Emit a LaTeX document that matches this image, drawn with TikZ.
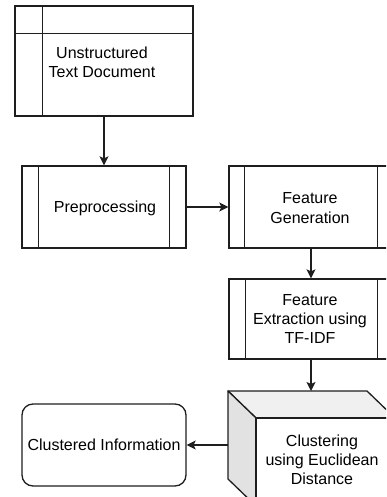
\documentclass[tikz,border=0pt]{standalone}
\usepackage{fontspec}
\setmainfont{Liberation Sans}
\usetikzlibrary{arrows.meta}
\definecolor{topface}{HTML}{F0F0F0}
\definecolor{sideface}{HTML}{E2E2E2}
\definecolor{ln}{HTML}{1E1E1E}
\begin{document}
\begin{tikzpicture}[x=1pt,y=-1pt,
  every node/.style={font=\fontsize{16}{19.2}\selectfont, text=black},
  blk/.style={draw=ln, line width=1.3pt, fill=white, inner sep=0pt},
  lbl/.style={align=center, inner sep=0pt},
  arr/.style={draw=ln, line width=1.3pt, -{Stealth[length=9pt,width=9pt,inset=2pt]}},
  ln/.style={draw=ln, line width=1.3pt}]
\useasboundingbox[clip] (0,0) rectangle (386,497);
% Unstructured text document (internal storage)
\node[blk, minimum width=178pt, minimum height=110pt] (doc) at (104,61) {};
\draw[ln] ([xshift=28pt]doc.north west) -- ([xshift=28pt]doc.south west);
\draw[ln] ([yshift=-28pt]doc.north west) -- ([yshift=-28pt]doc.north east);
\node[lbl] (doctext) at (102,62) {Unstructured\\Text Document};
% Preprocessing
\node[blk, minimum width=164pt, minimum height=82pt] (pre) at (104,207) {};
\draw[ln] ([xshift=17pt]pre.north west) -- ([xshift=17pt]pre.south west);
\draw[ln] ([xshift=-17pt]pre.north east) -- ([xshift=-17pt]pre.south east);
\node[lbl] (pretext) at (105,208) {Preprocessing};
% Feature generation
\node[blk, minimum width=164pt, minimum height=82pt] (gen) at (311,207) {};
\draw[ln] ([xshift=16pt]gen.north west) -- ([xshift=16pt]gen.south west);
\draw[ln] ([xshift=-16pt]gen.north east) -- ([xshift=-16pt]gen.south east);
\node[lbl] (gentext) at (310,208) {Feature\\Generation};
% Feature extraction
\node[blk, minimum width=164pt, minimum height=80pt] (ext) at (311,319) {};
\draw[ln] ([xshift=17pt]ext.north west) -- ([xshift=17pt]ext.south west);
\draw[ln] ([xshift=-16pt]ext.north east) -- ([xshift=-16pt]ext.south east);
\node[lbl] (exttext) at (310,319) {Feature\\Extraction using\\TF-IDF};
% Cube: clustering
\coordinate (cA) at (228,391);
\coordinate (cB) at (367,391);
\coordinate (cC) at (395,418);
\coordinate (cD) at (256,418);
\coordinate (cE) at (256,506);
\coordinate (cF) at (228,479);
\coordinate (cG) at (395,506);
\filldraw[ln, fill=topface, line join=round] (cA) -- (cB) -- (cC) -- (cD) -- cycle;
\filldraw[ln, fill=sideface, line join=round] (cA) -- (cD) -- (cE) -- (cF) -- cycle;
\filldraw[ln, fill=white] (cD) rectangle (cG);
\node[inner sep=0pt, minimum width=167pt, minimum height=115pt] (clu) at (311.5,448.5) {};
\node[lbl] (clutext) at (322,460) {Clustering\\using Euclidean\\Distance};
% Clustered information
\node[blk, rounded corners=11pt, minimum width=164pt, minimum height=82pt] (info) at (104,445) {};
\node[lbl] (infotext) at (104,445) {Clustered Information};
% Connectors
\draw[arr] (doc.south) -- (pre.north);
\draw[arr] (pre.east) -- (gen.west);
\draw[arr] (gen.south) -- (ext.north);
\draw[arr] (ext.south) -- (ext.south |- cA);
\draw[arr] (cA |- info.east) -- (info.east);
\end{tikzpicture}
\end{document}
